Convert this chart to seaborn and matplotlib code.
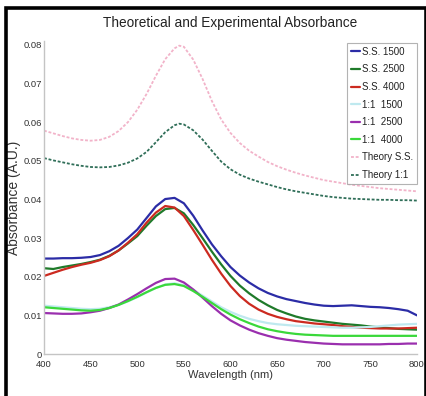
import matplotlib
matplotlib.use("Agg")
import matplotlib.pyplot as plt
import seaborn as sns
import pandas as pd
from matplotlib.patches import Rectangle

# ---------------- data ----------------
wl_exp = [400, 410, 420, 430, 440, 450, 460, 470, 480, 490, 500, 510, 520, 530, 540,
          550, 560, 570, 580, 590, 600, 610, 620, 630, 640, 650, 660, 670, 680, 690,
          700, 710, 720, 730, 740, 750, 760, 770, 780, 790, 800]
ss_1500 = [0.0247, 0.0247, 0.0248, 0.0248, 0.0249, 0.0251, 0.0256, 0.0266, 0.0280, 0.0300,
           0.0322, 0.0352, 0.0382, 0.0401, 0.0404, 0.0390, 0.0358, 0.0320, 0.0284, 0.0253,
           0.0225, 0.0203, 0.0185, 0.0170, 0.0158, 0.0149, 0.0142, 0.0137, 0.0132, 0.0128,
           0.0125, 0.0124, 0.0125, 0.0126, 0.0124, 0.0122, 0.0121, 0.0119, 0.0116, 0.0112,
           0.0100]
ss_2500 = [0.0222, 0.0220, 0.0225, 0.0229, 0.0233, 0.0238, 0.0244, 0.0254, 0.0268, 0.0286,
           0.0305, 0.0332, 0.0357, 0.0375, 0.0378, 0.0364, 0.0334, 0.0300, 0.0265, 0.0232,
           0.0202, 0.0177, 0.0157, 0.0140, 0.0126, 0.0114, 0.0105, 0.0097, 0.0091, 0.0087,
           0.0084, 0.0081, 0.0078, 0.0076, 0.0074, 0.0071, 0.0069, 0.0067, 0.0065, 0.0064,
           0.0063]
ss_4000 = [0.0202, 0.0210, 0.0218, 0.0225, 0.0231, 0.0236, 0.0243, 0.0253, 0.0268, 0.0288,
           0.0310, 0.0340, 0.0366, 0.0383, 0.0379, 0.0357, 0.0321, 0.0283, 0.0244, 0.0208,
           0.0176, 0.0150, 0.0130, 0.0115, 0.0104, 0.0096, 0.0090, 0.0085, 0.0082, 0.0079,
           0.0077, 0.0075, 0.0072, 0.0070, 0.0068, 0.0067, 0.0066, 0.0066, 0.0066, 0.0067,
           0.0068]
r11_1500 = [0.0125, 0.0123, 0.0121, 0.0119, 0.0117, 0.0116, 0.0117, 0.0121, 0.0127, 0.0136,
            0.0147, 0.0159, 0.0171, 0.0180, 0.0183, 0.0178, 0.0166, 0.0151, 0.0136, 0.0121,
            0.0109, 0.0099, 0.0091, 0.0085, 0.0080, 0.0077, 0.0075, 0.0073, 0.0072, 0.0071,
            0.0070, 0.0069, 0.0068, 0.0068, 0.0069, 0.0070, 0.0072, 0.0074, 0.0076, 0.0077,
            0.0078]
r11_2500 = [0.0106, 0.0105, 0.0104, 0.0104, 0.0105, 0.0108, 0.0112, 0.0119, 0.0128, 0.0141,
            0.0155, 0.0170, 0.0184, 0.0194, 0.0195, 0.0185, 0.0167, 0.0146, 0.0124, 0.0104,
            0.0087, 0.0074, 0.0063, 0.0054, 0.0047, 0.0041, 0.0037, 0.0034, 0.0031, 0.0029,
            0.0027, 0.0026, 0.0025, 0.0025, 0.0025, 0.0025, 0.0025, 0.0026, 0.0026, 0.0027,
            0.0027]
r11_4000 = [0.0121, 0.0119, 0.0117, 0.0115, 0.0113, 0.0112, 0.0114, 0.0119, 0.0127, 0.0137,
            0.0148, 0.0160, 0.0171, 0.0179, 0.0181, 0.0176, 0.0163, 0.0148, 0.0132, 0.0116,
            0.0102, 0.0090, 0.0080, 0.0071, 0.0064, 0.0059, 0.0055, 0.0052, 0.0050, 0.0049,
            0.0048, 0.0047, 0.0047, 0.0047, 0.0047, 0.0047, 0.0047, 0.0047, 0.0047, 0.0047,
            0.0047]

wl_theory = [400, 410, 420, 430, 440, 450, 460, 470, 480, 490, 500, 510, 520, 530, 540,
             545, 550, 560, 570, 580, 590, 600, 610, 620, 630, 640, 650, 660, 670, 680,
             690, 700, 710, 720, 730, 740, 750, 760, 770, 780, 790, 800]
theory_ss = [0.0578, 0.0571, 0.0564, 0.0558, 0.0554, 0.0552, 0.0554, 0.0562, 0.0577, 0.0600,
             0.0632, 0.0673, 0.0720, 0.0763, 0.0791, 0.0798, 0.0795, 0.0762, 0.0712, 0.0655,
             0.0607, 0.0572, 0.0546, 0.0526, 0.0511, 0.0497, 0.0486, 0.0477, 0.0469, 0.0462,
             0.0456, 0.0450, 0.0446, 0.0442, 0.0438, 0.0435, 0.0432, 0.0429, 0.0427, 0.0425,
             0.0423, 0.0421]
theory_11 = [0.0507, 0.0501, 0.0496, 0.0491, 0.0487, 0.0484, 0.0483, 0.0484, 0.0488, 0.0495,
             0.0506, 0.0523, 0.0548, 0.0574, 0.0592, 0.0596, 0.0594, 0.0579, 0.0555, 0.0526,
             0.0498, 0.0478, 0.0464, 0.0454, 0.0446, 0.0439, 0.0432, 0.0426, 0.0421, 0.0417,
             0.0413, 0.0409, 0.0406, 0.0404, 0.0402, 0.0401, 0.0400, 0.0399, 0.0399, 0.0398,
             0.0398, 0.0397]

labels = ["S.S. 1500", "S.S. 2500", "S.S. 4000", "1:1  1500", "1:1  2500", "1:1  4000",
          "Theory S.S.", "Theory 1:1"]
x_ticks = [400, 450, 500, 550, 600, 650, 700, 750, 800]
y_ticks = [0, 0.01, 0.02, 0.03, 0.04, 0.05, 0.06, 0.07, 0.08]
y_tick_labels = ["0", "0.01", "0.02", "0.03", "0.04", "0.05", "0.06", "0.07", "0.08"]

# ---------------- style ----------------
sns.set_theme(style="white")
plt.rcParams["font.family"] = ["Liberation Sans", "DejaVu Sans"]

colors = ["#2b2ca6", "#1f7a2a", "#cc2a20", "#bfe9ef", "#9a2fae", "#3ad83a", "#f2b3c9", "#2f6e58"]

series = [
    (wl_exp, ss_1500), (wl_exp, ss_2500), (wl_exp, ss_4000),
    (wl_exp, r11_1500), (wl_exp, r11_2500), (wl_exp, r11_4000),
    (wl_theory, theory_ss), (wl_theory, theory_11),
]

fig = plt.figure(figsize=(4.27, 3.96), dpi=100)
ax = fig.add_axes([44 / 427, 1 - 354 / 396, (417 - 44) / 427, (354 - 41) / 396])

for i, ((xs, ys), lab, col) in enumerate(zip(series, labels, colors)):
    df = pd.DataFrame({"Wavelength": xs, "Absorbance": ys})
    if i >= 6:
        sns.lineplot(data=df, x="Wavelength", y="Absorbance", ax=ax, color=col,
                     linewidth=1.3, linestyle=(0, (1.6, 1.0)), label=lab)
    else:
        sns.lineplot(data=df, x="Wavelength", y="Absorbance", ax=ax, color=col,
                     linewidth=1.6, label=lab)

ax.set_xlim(400, 800)
ax.set_ylim(0, 0.081)
ax.set_xticks(x_ticks)
ax.set_xticklabels([str(v) for v in x_ticks])
ax.set_yticks(y_ticks)
ax.set_yticklabels(y_tick_labels)
ax.tick_params(direction="in", length=4, width=0.8, color="#b0b0b0",
               labelsize=6.8, labelcolor="#333333")
ax.tick_params(axis="y", pad=1.5)
ax.tick_params(axis="x", pad=4)
for s in ["top", "right"]:
    ax.spines[s].set_visible(False)
for s in ["left", "bottom"]:
    ax.spines[s].set_color("#c4c4c4")
    ax.spines[s].set_linewidth(1.0)

ax.set_title("Theoretical and Experimental Absorbance", fontsize=9.8, color="#222222", pad=10)
ax.set_xlabel("Wavelength (nm)", fontsize=8, color="#333333", labelpad=1)
ax.set_ylabel("Absorbance (A.U.)", fontsize=10, color="#333333")
ax.yaxis.set_label_coords(-0.062, 0.5)

leg = ax.legend(loc="upper right", bbox_to_anchor=(1.0, 1.0 - 2 / 313), fontsize=7,
                frameon=True, fancybox=False, handlelength=0.9, handletextpad=0.2,
                labelspacing=0.78, borderpad=0.4, borderaxespad=0.0)
leg.get_frame().set_edgecolor("#a0a0a0")
leg.get_frame().set_linewidth(0.8)
for t in leg.get_texts():
    t.set_color("#222222")

# black outer frame
fig.patches.append(Rectangle((6 / 427, -0.05), (426 - 6) / 427, 1.05 - 8.5 / 396,
                             transform=fig.transFigure, fill=False, edgecolor="black",
                             linewidth=2.6, zorder=10))

fig.savefig("out.png", dpi=100, facecolor="white")
